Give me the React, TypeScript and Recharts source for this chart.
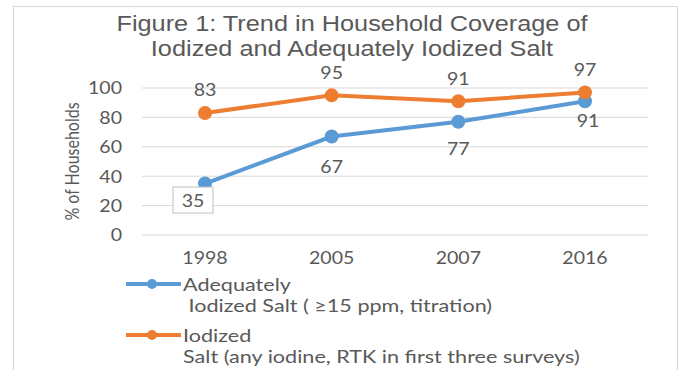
import { CartesianGrid, LabelList, Line, LineChart, XAxis, YAxis } from "recharts";

const years = ["1998", "2005", "2007", "2016"];
const adequatelyIodized = [35, 67, 77, 91];
const iodized = [83, 95, 91, 97];
const yTicks = [0, 20, 40, 60, 80, 100];

const legendItems = [
  { name: "Adequately", detail: " Iodized Salt ( \u226515 ppm, titration)" },
  { name: "Iodized", detail: "Salt (any iodine, RTK in first three surveys)" },
];

const data = years.map((year, i) => ({
  year,
  adequate: adequatelyIodized[i],
  iodized: iodized[i],
}));

const BLUE = "#5B9BD5";
const ORANGE = "#ED7D31";
const TEXT = "#595959";
const FONT = "Lato, 'Open Sans', sans-serif";
const STRETCH = 1.15;

// the source image is stretched sideways, so text gets a small scaleX
function Wide({ x, y, anchor = "middle", size = 17, sx = STRETCH, children }: any) {
  return (
    <text
      transform={`translate(${x},${y}) scale(${sx},1)`}
      textAnchor={anchor}
      dominantBaseline="central"
      fontSize={size}
      fill={TEXT}
      fontFamily={FONT}
      style={{ whiteSpace: "pre" }}
    >
      {children}
    </text>
  );
}

function XTick(props: any) {
  const { x, y, payload } = props;
  return <Wide x={x} y={y + 3}>{payload.value}</Wide>;
}

function YTick(props: any) {
  const { x, y, payload } = props;
  return <Wide x={x} y={y} anchor="end">{payload.value}</Wide>;
}

function YLabel(props: any) {
  const { viewBox } = props;
  const cy = viewBox.y + viewBox.height / 2;
  return (
    <text
      transform={`translate(72,${cy}) rotate(-90) scale(1,${STRETCH})`}
      textAnchor="middle"
      dominantBaseline="central"
      fontSize={16}
      fill={TEXT}
      fontFamily={FONT}
    >
      % of Households
    </text>
  );
}

function OrangeLabel(props: any) {
  const { x, y, value } = props;
  return <Wide x={x} y={y - 23}>{value}</Wide>;
}

function BlueLabel(props: any) {
  const { x, y, value, index } = props;
  if (index === 0) {
    return (
      <g>
        <rect x={x - 32} y={y + 3.5} width={40} height={26} fill="#fff" stroke="#BFBFBF" strokeWidth={1} />
        <Wide x={x - 12} y={y + 16.5}>{value}</Wide>
      </g>
    );
  }
  const dy = index === 3 ? 19 : index === 2 ? 27 : 30;
  return <Wide x={x + (index === 3 ? 3 : 0)} y={y + dy}>{value}</Wide>;
}

function LegendOverlay() {
  const colors = [BLUE, ORANGE];
  const rows = [284, 335];
  return (
    <svg width={682} height={370} style={{ position: "absolute", left: 0, top: 0, pointerEvents: "none" }}>
      {legendItems.map((item, i) => (
        <g key={item.name}>
          <line x1={126} y1={rows[i]} x2={181} y2={rows[i]} stroke={colors[i]} strokeWidth={4} />
          <circle cx={152} cy={rows[i]} r={5} fill={colors[i]} />
          <Wide x={183} y={rows[i]} anchor="start" size={18} sx={1.2}>{item.name}</Wide>
          <Wide x={183} y={rows[i] + 21} anchor="start" size={18} sx={1.2}>{item.detail}</Wide>
        </g>
      ))}
    </svg>
  );
}

export default function App() {
  return (
    <div style={{ position: "absolute", left: 0, top: 0, width: 682, height: 370, background: "#fff", overflow: "hidden" }}>
      <div style={{ position: "absolute", left: 13, top: 6, width: 665, height: 380, border: "1px solid #D9D9D9", boxSizing: "border-box" }} />
      <div
        style={{
          position: "absolute",
          left: 11,
          top: 11,
          width: 682,
          textAlign: "center",
          fontFamily: "'Liberation Sans', Arial, sans-serif",
          fontSize: 22,
          lineHeight: "25px",
          color: TEXT,
          transform: "scaleX(1.15)",
          transformOrigin: "341px 0",
        }}
      >
        Figure 1: Trend in Household Coverage of
        <br />
        Iodized and Adequately Iodized Salt
      </div>
      <LineChart width={682} height={370} data={data} margin={{ top: 88, right: 34, left: 0, bottom: 105 }}>
        <CartesianGrid vertical={false} stroke="#D9D9D9" />
        <XAxis
          dataKey="year"
          axisLine={false}
          tickLine={false}
          tickMargin={14}
          height={30}
          padding={{ left: 63, right: 63 }}
          tick={XTick}
        />
        <YAxis
          width={142}
          domain={[0, 100]}
          ticks={yTicks}
          axisLine={false}
          tickLine={false}
          tickMargin={14}
          tick={YTick}
          label={<YLabel />}
        />
        <Line
          dataKey="adequate"
          stroke={BLUE}
          strokeWidth={4}
          dot={{ r: 5, fill: BLUE, stroke: BLUE }}
          isAnimationActive={false}
        >
          <LabelList dataKey="adequate" content={BlueLabel} />
        </Line>
        <Line
          dataKey="iodized"
          stroke={ORANGE}
          strokeWidth={4}
          dot={{ r: 5, fill: ORANGE, stroke: ORANGE }}
          isAnimationActive={false}
        >
          <LabelList dataKey="iodized" content={OrangeLabel} />
        </Line>
      </LineChart>
      <LegendOverlay />
    </div>
  );
}
